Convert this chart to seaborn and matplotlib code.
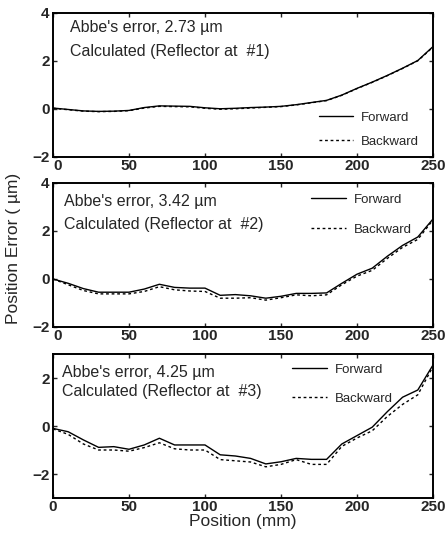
import numpy as np
import pandas as pd
import matplotlib
matplotlib.use("Agg")
import matplotlib.pyplot as plt
import matplotlib.transforms as mtransforms
import seaborn as sns

# Stage position (mm)
pos = [0, 10, 20, 30, 40, 50, 60, 70, 80, 90, 100, 110, 120, 130, 140,
       150, 160, 170, 180, 190, 200, 210, 220, 230, 240, 250]

# Reflector #1
fwd1 = [0.04, -0.02, -0.08, -0.10, -0.09, -0.06, 0.06, 0.13, 0.12, 0.11,
        0.05, 0.01, 0.03, 0.06, 0.08, 0.11, 0.18, 0.27, 0.36, 0.58,
        0.86, 1.12, 1.40, 1.70, 2.02, 2.60]
bwd1 = [0.03, -0.03, -0.09, -0.11, -0.10, -0.07, 0.04, 0.11, 0.10, 0.09,
        0.03, -0.01, 0.01, 0.04, 0.07, 0.10, 0.17, 0.26, 0.35, 0.57,
        0.85, 1.11, 1.39, 1.69, 2.01, 2.58]

# Reflector #2
fwd2 = [0.00, -0.18, -0.40, -0.55, -0.55, -0.55, -0.42, -0.22, -0.35, -0.38,
        -0.38, -0.68, -0.65, -0.70, -0.80, -0.72, -0.60, -0.60, -0.58, -0.18,
        0.20, 0.45, 0.95, 1.40, 1.75, 2.50]
bwd2 = [0.00, -0.24, -0.48, -0.62, -0.62, -0.62, -0.52, -0.32, -0.45, -0.50,
        -0.52, -0.80, -0.80, -0.78, -0.88, -0.78, -0.66, -0.70, -0.66, -0.24,
        0.12, 0.36, 0.86, 1.32, 1.65, 2.46]

# Reflector #3
fwd3 = [-0.10, -0.24, -0.58, -0.89, -0.86, -0.97, -0.79, -0.51, -0.79, -0.79,
        -0.79, -1.20, -1.25, -1.35, -1.58, -1.49, -1.35, -1.39, -1.39, -0.75,
        -0.40, -0.05, 0.60, 1.20, 1.50, 2.54]
bwd3 = [-0.12, -0.35, -0.75, -1.00, -1.00, -1.05, -0.90, -0.70, -0.95, -1.00,
        -1.00, -1.40, -1.45, -1.50, -1.70, -1.60, -1.40, -1.60, -1.60, -0.85,
        -0.50, -0.20, 0.40, 0.90, 1.30, 2.48]

heads = ["Abbe's error, 2.73 \u00b5m", "Abbe's error, 3.42 \u00b5m", "Abbe's error, 4.25 \u00b5m"]
subs = ["Calculated (Reflector at  #1)", "Calculated (Reflector at  #2)",
        "Calculated (Reflector at  #3)"]
directions = ["Forward", "Backward"]

sns.set_theme(style="ticks")
plt.rcParams["font.family"] = ["Liberation Sans", "DejaVu Sans"]

fig = plt.figure(figsize=(4.45, 5.38), dpi=100)
L, W = 53 / 445, 380 / 445
rects = [(L, 1 - 157 / 538, W, 144 / 538),
         (L, 1 - 327 / 538, W, 144 / 538),
         (L, 1 - 498 / 538, W, 144 / 538)]

series = [(fwd1, bwd1), (fwd2, bwd2), (fwd3, bwd3)]
ylims = [(-2, 4), (-2, 4), (-3, 3)]
yticks = [[-2, 0, 2, 4], [-2, 0, 2, 4], [-2, 0, 2]]
text_pos = [((0.045, 0.90), (0.045, 0.73)),
            ((0.03, 0.87), (0.03, 0.71)),
            ((0.024, 0.87), (0.024, 0.74))]
leg_pos = [(0.70, 0.19, 0.9), (0.68, 0.78, 1.35), (0.63, 0.79, 1.3)]

# nudge the "0" position label off the corner so it clears the y labels
zero_shift = mtransforms.ScaledTranslation(5 / 100, 0, fig.dpi_scale_trans)

for i, (rect, (f, b)) in enumerate(zip(rects, series)):
    ax = fig.add_axes(rect)
    df = pd.DataFrame({
        "Position": pos * 2,
        "Error": f + b,
        "Direction": [directions[0]] * len(pos) + [directions[1]] * len(pos),
    })
    sns.lineplot(data=df, x="Position", y="Error", style="Direction",
                 style_order=directions, dashes={"Forward": "", "Backward": (2, 2)},
                 color="black", linewidth=1.0, ax=ax)
    ax.set_xlim(0, 250)
    ax.set_ylim(*ylims[i])
    ax.set_xticks([0, 50, 100, 150, 200, 250])
    ax.set_yticks(yticks[i])
    ax.tick_params(direction="in", length=3, width=1, top=True, right=True,
                   labelsize=11)
    ax.tick_params(axis="x", pad=1.5)
    ax.tick_params(axis="y", pad=2.5)
    for lab in ax.get_xticklabels() + ax.get_yticklabels():
        lab.set_fontweight("bold")
    if i < 2:
        z = ax.get_xticklabels()[0]
        z.set_transform(z.get_transform() + zero_shift)
    for sp in ax.spines.values():
        sp.set_linewidth(1.4)
        sp.set_color("black")
    ax.set_xlabel("")
    ax.set_ylabel("")
    (hx, hy), (sx, sy) = text_pos[i]
    ax.text(hx, hy, heads[i], transform=ax.transAxes, fontsize=11.5, va="center")
    ax.text(sx, sy, subs[i], transform=ax.transAxes, fontsize=11.5, va="center")
    lx, ly, sp_ = leg_pos[i]
    ax.legend(loc="center left", bbox_to_anchor=(lx, ly), frameon=False,
              fontsize=9.5, handlelength=2.6, handletextpad=0.6,
              labelspacing=sp_, borderpad=0, borderaxespad=0)
    if i == 2:
        ax.set_xlabel("Position (mm)", fontsize=12.5, labelpad=0)

fig.text(14 / 445, 1 - 248 / 538, "Position Error ( \u00b5m)", rotation=90,
         fontsize=12.5, ha="center", va="center")

fig.savefig("out.png", dpi=100)
